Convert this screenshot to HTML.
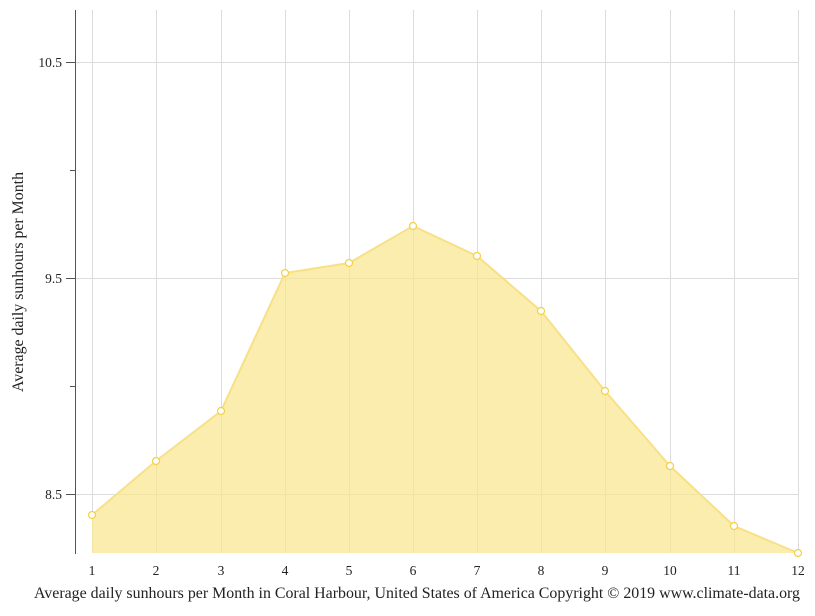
<!DOCTYPE html>
<html><head><meta charset="utf-8"><style>
body{margin:0;background:#fff;}
svg text{font-family:"Liberation Serif",serif;fill:#222;}
</style></head><body>
<svg width="815" height="611" viewBox="0 0 815 611" xmlns="http://www.w3.org/2000/svg">
<g stroke="#dcdcdc" stroke-width="1">
<line x1="76" y1="62.5" x2="799" y2="62.5"/>
<line x1="76" y1="278.5" x2="799" y2="278.5"/>
<line x1="76" y1="494.5" x2="799" y2="494.5"/>
<line x1="92.5" y1="10" x2="92.5" y2="553"/>
<line x1="156.5" y1="10" x2="156.5" y2="553"/>
<line x1="221.5" y1="10" x2="221.5" y2="553"/>
<line x1="285.5" y1="10" x2="285.5" y2="553"/>
<line x1="349.5" y1="10" x2="349.5" y2="553"/>
<line x1="413.5" y1="10" x2="413.5" y2="553"/>
<line x1="477.5" y1="10" x2="477.5" y2="553"/>
<line x1="541.5" y1="10" x2="541.5" y2="553"/>
<line x1="605.5" y1="10" x2="605.5" y2="553"/>
<line x1="670.5" y1="10" x2="670.5" y2="553"/>
<line x1="734.5" y1="10" x2="734.5" y2="553"/>
<line x1="798.5" y1="10" x2="798.5" y2="553"/>
</g>
<polygon fill="#f8e58a" fill-opacity="0.7" points="92,515 156,461 221,411 285,273 349,263 413,226 477,256 541,311 605,391 670,466 734,526 798,553 798,553 92,553"/>
<polyline fill="none" stroke="#f8e088" stroke-width="2" points="92,515 156,461 221,411 285,273 349,263 413,226 477,256 541,311 605,391 670,466 734,526 798,553"/>
<g fill="#fff" stroke="#f5d040" stroke-width="1.2">
<circle cx="92" cy="515" r="3.5"/><circle cx="156" cy="461" r="3.5"/><circle cx="221" cy="411" r="3.5"/><circle cx="285" cy="273" r="3.5"/><circle cx="349" cy="263" r="3.5"/><circle cx="413" cy="226" r="3.5"/><circle cx="477" cy="256" r="3.5"/><circle cx="541" cy="311" r="3.5"/><circle cx="605" cy="391" r="3.5"/><circle cx="670" cy="466" r="3.5"/><circle cx="734" cy="526" r="3.5"/><circle cx="798" cy="553" r="3.5"/>
</g>
<g stroke="#555" stroke-width="1">
<line x1="75.5" y1="10" x2="75.5" y2="554"/>
<line x1="66" y1="62.5" x2="75" y2="62.5"/>
<line x1="70" y1="170.5" x2="75" y2="170.5"/>
<line x1="66" y1="278.5" x2="75" y2="278.5"/>
<line x1="70" y1="386.5" x2="75" y2="386.5"/>
<line x1="66" y1="494.5" x2="75" y2="494.5"/>
</g>
<g font-size="13.5" text-anchor="end">
<text x="62" y="67">10.5</text>
<text x="62" y="283">9.5</text>
<text x="62" y="499">8.5</text>
</g>
<g font-size="13.5" text-anchor="middle">
<text x="92" y="575">1</text><text x="156" y="575">2</text><text x="221" y="575">3</text><text x="285" y="575">4</text><text x="349" y="575">5</text><text x="413" y="575">6</text><text x="477" y="575">7</text><text x="541" y="575">8</text><text x="605" y="575">9</text><text x="670" y="575">10</text><text x="734" y="575">11</text><text x="798" y="575">12</text>
</g>
<text x="23" y="282" font-size="15.8" text-anchor="middle" textLength="220" lengthAdjust="spacingAndGlyphs" transform="rotate(-90 23 282)">Average daily sunhours per Month</text>
<text x="417" y="598" font-size="15.8" text-anchor="middle" textLength="766" lengthAdjust="spacingAndGlyphs">Average daily sunhours per Month in Coral Harbour, United States of America Copyright © 2019 www.climate-data.org</text>
</svg>
</body></html>
